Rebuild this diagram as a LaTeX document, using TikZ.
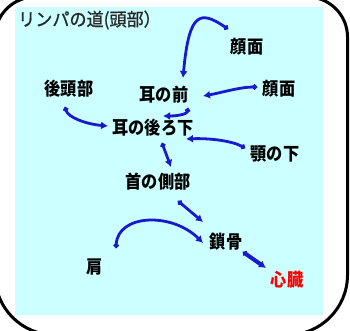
\documentclass[tikz,border=0pt]{standalone}
\usepackage{fontspec}
\newfontfamily\jpfont[FakeStretch=0.9]{Noto Sans CJK JP}
\newfontfamily\titlefont[FakeStretch=0.95,FakeBold=1]{Noto Sans CJK JP}
\usetikzlibrary{arrows.meta}
\definecolor{lymphblue}{RGB}{25,25,205}
\definecolor{paleaqua}{RGB}{204,255,255}
\definecolor{titlegray}{RGB}{40,40,40}

\begin{document}
\begin{tikzpicture}[x=1pt,y=-1pt,
  part/.style={font=\jpfont\bfseries\fontsize{18}{18}\selectfont,inner sep=0pt},
  flow/.style={draw=lymphblue,line width=2.8pt,{Circle[length=5pt]}-{Latex[length=7pt,width=8pt]}}]
\useasboundingbox (0,0) rectangle (350,331);
\fill[paleaqua] (15,7) rectangle (323,315);
\draw[line width=3pt] (-5,150) [rounded corners=40pt] -- (-5,-3) -- (347.5,-3) -- (347.5,150)
  [rounded corners=60pt] -- (347.5,335) -- (-5,335) -- (-5,150);
\node[font=\titlefont\fontsize{18}{18}\selectfont,text=titlegray,anchor=west,inner sep=0pt] (title) at (18,20) {リンパの道(頭部）};
\node[part] (face1) at (247,47) {顔面};
\node[part] (occiput) at (69,89) {後頭部};
\node[part] (earfront) at (164,95) {耳の前};
\node[part] (face2) at (279,89) {顔面};
\node[part] (earback) at (153,128) {耳の後ろ下};
\node[part] (jaw) at (275,154) {顎の下};
\node[part] (neck) at (158,182) {首の側部};
\node[part] (clavicle) at (226,242) {鎖骨};
\node[part] (shoulder) at (95,267) {肩};
\node[part,text=red] (heart) at (287,280) {心臓};
\draw[flow] ([shift={(-19,-18)}]face1.center) .. controls (200,10) and (189,12) .. ([shift={(19,-17)}]earfront.center);
\draw[flow] ([shift={(-22,-2)}]face2.center) .. controls (240,87) and (220,93) .. ([shift={(39,1)}]earfront.center);
\draw[flow] ([shift={(24,13)}]earfront.center) .. controls (187,114) and (178,116) .. ([shift={(10,-12)}]earback.center);
\draw[flow] ([shift={(-4,18)}]occiput.center) .. controls (68,117) and (85,124) .. ([shift={(-45,-2)}]earback.center);
\draw[flow] ([shift={(-30,-6)}]jaw.center) .. controls (232,141) and (210,138) .. ([shift={(33,11)}]earback.center);
\draw[flow] ([shift={(9,15)}]earback.center) -- ([shift={(13,-15)}]neck.center);
\draw[flow] ([shift={(20,19)}]neck.center) -- ([shift={(-23,-20)}]clavicle.center);
\draw[flow] ([shift={(21,-19)}]shoulder.center) .. controls (118,214) and (172,212) .. ([shift={(-23,1)}]clavicle.center);
\draw[flow,line width=4pt] ([shift={(17,10)}]clavicle.center) -- ([shift={(-21,-12)}]heart.center);
\end{tikzpicture}
\end{document}
